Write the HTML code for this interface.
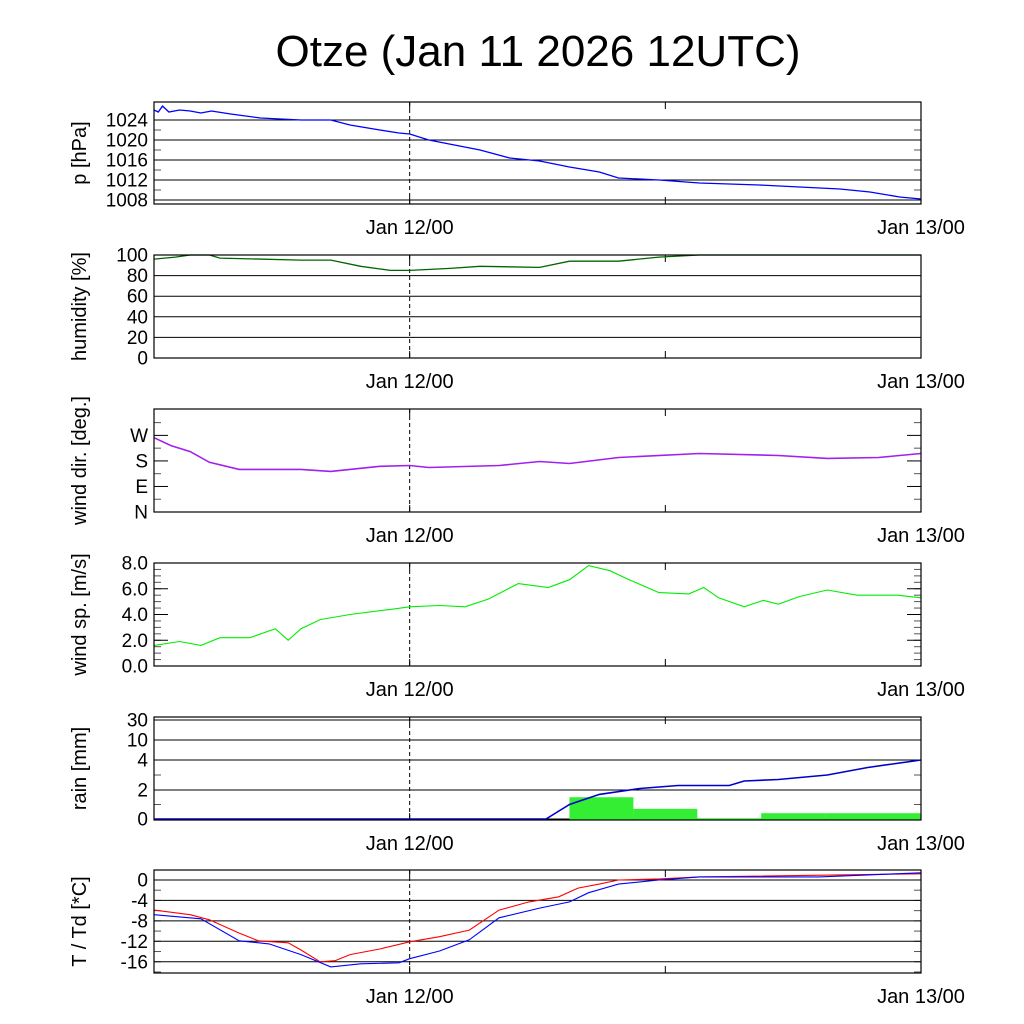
<!DOCTYPE html>
<html><head><meta charset="utf-8"><style>
html,body{margin:0;padding:0;background:#fff;}
svg{display:block;font-family:"Liberation Sans",sans-serif;}
</style></head><body>
<svg id="chart" width="1024" height="1024" viewBox="0 0 1024 1024" xmlns="http://www.w3.org/2000/svg">
<rect width="1024" height="1024" fill="#fff"/>
<text x="538" y="66" font-size="44" text-anchor="middle">Otze (Jan 11 2026 12UTC)</text>
</svg>
<script>
// hours since Jan 11 12UTC
const pHours=[0,0.2,0.4,0.7,1.2,1.7,2.2,2.7,3.6,5,6.9,8.3,9.2,10.6,11.5,12,12.9,15.3,16.7,18.1,19.5,20.9,21.8,23.7,25.6,28.4,30.3,32.2,33.6,35,36];
const pVals=[1026,1025.6,1026.8,1025.6,1026,1025.8,1025.4,1025.8,1025.2,1024.4,1024,1024,1023,1022,1021.4,1021.2,1020,1018,1016.4,1015.8,1014.6,1013.6,1012.4,1012,1011.4,1011,1010.6,1010.2,1009.6,1008.6,1008.2];
const hHours=[0,1,1.7,2.6,3.1,6.9,8.3,9.7,11.1,12,13.9,15.3,18.1,19.5,21.8,23.7,25.6,36];
const hVals=[96,98,100,100,97,95,95,89,85,85,87,89,88,94,94,98,100,100];
const dHours=[0,0.8,1.7,2.6,4.0,6.9,8.3,10.6,12,12.9,16.2,18.1,19.5,21.8,25.6,29.3,31.6,34,36];
const dVals=[262,234,213,175,150,150,143,161,164,157,164,178,171,192,206,199,189,192,206];
const sHours=[0,1.2,2.2,3.1,4.5,5.7,6.3,6.9,7.8,9.2,11.1,12,13.4,14.6,15.7,17.1,18.5,19.5,20.4,21.4,22.3,23.7,25.1,25.8,26.5,27.7,28.6,29.3,30.3,31.6,33,34.9,36];
const sVals=[1.6,1.9,1.6,2.2,2.2,2.9,2.0,2.9,3.6,4.0,4.4,4.6,4.7,4.6,5.2,6.4,6.1,6.7,7.8,7.4,6.7,5.7,5.6,6.1,5.3,4.6,5.1,4.8,5.4,5.9,5.5,5.5,5.3];
const rainStart=[19.5,22.5,25.5,28.5,31.5,34.5];
const rainEnd=[22.5,25.5,28.5,31.5,34.5,36];
const rainVals=[1.5,0.7,0.05,0.4,0.4,0.4];
const cumHours=[0,18.4,19.5,20.9,22.8,24.6,27,27.7,29.3,31.6,33.5,36];
const cumVals=[0,0,1.0,1.7,2.1,2.3,2.3,2.6,2.7,3.0,3.5,4.0];
const tHours=[0,1.7,2.6,4.0,4.9,6.3,6.9,7.8,8.5,9.2,10.6,12,13.4,14.8,16.2,17.6,19,19.9,20.9,21.8,23.7,25.6,36];
const tVals=[-5.9,-6.8,-7.8,-10.4,-11.9,-12.3,-13.7,-16,-15.8,-14.6,-13.5,-12.1,-11.1,-9.8,-5.9,-4.3,-3.3,-1.6,-0.8,0,0.2,0.6,1.2];
const tdHours=[0,2.2,4.0,5.4,6.9,8.3,9.7,11.5,12,13.4,14.8,16.2,18.1,19.5,20.4,21.8,23.7,25.6,31.2,36];
const tdVals=[-6.8,-7.6,-11.9,-12.5,-14.6,-17,-16.4,-16.2,-15.4,-13.9,-11.7,-7.4,-5.5,-4.3,-2.5,-0.8,0,0.6,0.6,1.4];

const svg=document.getElementById('chart');
const NS='http://www.w3.org/2000/svg';
const X0=154,X1=921;
const xs=h=>X0+(X1-X0)*h/36;
function mk(tag,attrs,parent){const e=document.createElementNS(NS,tag);for(const k in attrs)e.setAttribute(k,attrs[k]);(parent||svg).appendChild(e);return e;}
function panel(name,top,bot,label,ys,ticks,grid,minor){
  const g=mk('g',{});
  
  
  minor.forEach(v=>{const y=ys(v);
    mk('line',{x1:X0,x2:X0+7,y1:y,y2:y,stroke:'#555','stroke-width':1},g);
    mk('line',{x1:X1-7,x2:X1,y1:y,y2:y,stroke:'#555','stroke-width':1},g);});
  ticks.forEach(t=>{const y=ys(t[0]);
    if(grid) mk('line',{x1:X0,x2:X1,y1:y,y2:y,stroke:'#000','stroke-width':1},g);
    else {mk('line',{x1:X0,x2:X0+14,y1:y,y2:y,stroke:'#000'},g);mk('line',{x1:X1-14,x2:X1,y1:y,y2:y,stroke:'#000'},g);}
    const tx=mk('text',{x:148,y:y+6.5,'font-size':19,'text-anchor':'end'},g);tx.textContent=t[1];
    
    });
  [12,24].forEach(h=>{mk('line',{x1:xs(h),x2:xs(h),y1:bot-7,y2:bot,stroke:'#000'},g);mk('line',{x1:xs(h),x2:xs(h),y1:top,y2:top+7,stroke:'#000'},g);});
  mk('line',{x1:xs(12),x2:xs(12),y1:top,y2:bot,stroke:'#000','stroke-dasharray':'4,3'},g);
  const l1=mk('text',{x:xs(12),y:bot+30,'font-size':20,'text-anchor':'middle'},g);l1.textContent='Jan 12/00';
  
  
  const l2=mk('text',{x:X1,y:bot+30,'font-size':20,'text-anchor':'middle'},g);l2.textContent='Jan 13/00';
  
  
  const cy=(top+bot)/2;
  const yl=mk('text',{x:0,y:0,'font-size':20,'text-anchor':'middle',transform:`translate(86,${cy}) rotate(-90)`},g);yl.textContent=label;
  
  
  return g;
}
function frame(g,top,bot){mk('rect',{x:X0,y:top,width:X1-X0,height:bot-top,fill:'none',stroke:'#000','stroke-width':1.2},g);}
function line(g,hs,vs,ys,color,name,w){
  const d=hs.map((h,i)=>(i?'L':'M')+xs(h).toFixed(1)+','+ys(vs[i]).toFixed(1)).join('');
  const p=mk('path',{d:d,fill:'none',stroke:color,'stroke-width':w||1.3},g);
  
  
}
function lin(top,bot,vmax,vmin){return v=>top+(vmax-v)/(vmax-vmin)*(bot-top);}
function rng(a,b,s){const r=[];for(let v=a;v<=b+1e-9;v+=s)r.push(v);return r;}

let T=102,B=204,ys=lin(T,B,1027.6,1007.2);
let g=panel('pressure',T,B,'p [hPa]',ys,[[1024,'1024'],[1020,'1020'],[1016,'1016'],[1012,'1012'],[1008,'1008']],true,rng(1010,1022,2));
line(g,pHours,pVals,ys,'#0000ff','pressure-line');frame(g,T,B);
T=255;B=358;ys=lin(T,B,100,0);
g=panel('humidity',T,B,'humidity [%]',ys,[[100,'100'],[80,'80'],[60,'60'],[40,'40'],[20,'20'],[0,'0']],true,[]);
line(g,hHours,hVals,ys,'#006400','humidity-line');frame(g,T,B);
T=409;B=512;ys=lin(T,B,363,0);
g=panel('wind-dir',T,B,'wind dir. [deg.]',ys,[[270,'W'],[180,'S'],[90,'E'],[0,'N']],false,[45,135,225,315]);
line(g,dHours,dVals,ys,'#a020f0','wind-dir-line',1.6);frame(g,T,B);
T=563;B=666;ys=lin(T,B,8,0);
g=panel('wind-speed',T,B,'wind sp. [m/s]',ys,[[8,'8.0'],[6,'6.0'],[4,'4.0'],[2,'2.0'],[0,'0.0']],false,rng(0,8,0.5));
line(g,sHours,sVals,ys,'#00ee00','wind-speed-line',1.1);frame(g,T,B);
T=717;B=820;
const rk=[0,2,4,10,30,40],ry=[819,790,760,740,720,717];
ys=v=>{for(let i=0;i<rk.length-1;i++){if(v<=rk[i+1]){return ry[i]+(v-rk[i])/(rk[i+1]-rk[i])*(ry[i+1]-ry[i]);}}return 717;};
g=panel('rain',T,B,'rain [mm]',ys,[[30,'30'],[10,'10'],[4,'4'],[2,'2'],[0,'0']],true,[1,3]);
rainVals.forEach((v,i)=>{const r=mk('rect',{x:xs(rainStart[i]),y:ys(v),width:xs(rainEnd[i])-xs(rainStart[i]),height:ys(0)-ys(v)+1,fill:'#33ee33'},g);
  
  });
line(g,cumHours,cumVals,ys,'#0000cc','cumulative-rain-line',1.6);frame(g,T,B);
T=870;B=973;ys=lin(T,B,1.95,-18.2);
g=panel('temperature',T,B,'T / Td [*C]',ys,[[0,'0'],[-4,'-4'],[-8,'-8'],[-12,'-12'],[-16,'-16']],true,rng(-18,1,2));
line(g,tHours,tVals,ys,'#ff0000','temperature-line',1.1);
line(g,tdHours,tdVals,ys,'#0000ff','dewpoint-line',1.1);frame(g,T,B);
</script>
</body></html>
